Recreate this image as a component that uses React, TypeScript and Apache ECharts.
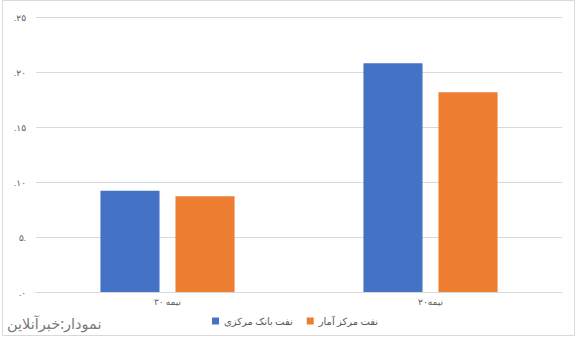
import React, { useEffect, useRef } from "react";
import * as echarts from "echarts";

const categories = ["۳۰ نیمه", "۲۰نیمه"];
const seriesNames = ["نفت بانک مرکزی", "نفت مرکز آمار"];
const bankValues = [9.2, 20.8];
const statValues = [8.7, 18.15];
const yTickLabels = [".۰", "۵.", ".۱۰", ".۱۵", ".۲۰", ".۲۵"];
const sourceText = "نمودار:خبرآنلاین";

export default function App() {
  const ref = useRef<HTMLDivElement>(null);
  useEffect(() => {
    document.body.style.margin = "0";
    const chart = echarts.init(ref.current!, null, { renderer: "svg" });
    const font = "Calibri, 'Liberation Sans', 'DejaVu Sans', sans-serif";
    chart.setOption({
      animation: false,
      backgroundColor: "#ffffff",
      textStyle: { fontFamily: font },
      grid: { left: 36, right: 15, top: 17, bottom: 45, containLabel: false },
      legend: {
        left: 207,
        top: 311,
        itemWidth: 7,
        itemHeight: 7,
        itemGap: 14,
        icon: "rect",
        textStyle: { fontSize: 10, color: "#595959", fontFamily: font },
        data: seriesNames,
      },
      xAxis: {
        type: "category",
        data: categories,
        axisLine: { show: true, lineStyle: { color: "#d9d9d9", width: 1 } },
        axisTick: { show: false },
        axisLabel: { fontSize: 9, color: "#595959", margin: 5 },
      },
      yAxis: {
        type: "value",
        min: 0,
        max: 25,
        interval: 5,
        axisLine: { show: false },
        axisTick: { show: false },
        splitLine: { lineStyle: { color: "#d9d9d9", width: 1 } },
        axisLabel: {
          fontSize: 9,
          color: "#595959",
          margin: 10,
          formatter: (v: number) => yTickLabels[Math.round(v / 5)] ?? "",
        },
      },
      series: [
        {
          name: seriesNames[0],
          type: "bar",
          data: bankValues,
          itemStyle: { color: "#4472C4" },
          barGap: "27%",
          barCategoryGap: "49%",
        },
        {
          name: seriesNames[1],
          type: "bar",
          data: statValues,
          itemStyle: { color: "#ED7D31" },
        },
      ],
      graphic: [
        {
          type: "rect",
          shape: { x: 2.5, y: 0.5, width: 572, height: 335 },
          style: { fill: "none", stroke: "#d9d9d9", lineWidth: 1 },
          silent: true,
        },
        {
          type: "text",
          left: 7,
          top: 315,
          style: { text: sourceText, fontSize: 14.5, fill: "#7a7a7a", fontFamily: "'Noto Sans', 'DejaVu Sans', sans-serif" },
        },
      ],
    });
    return () => chart.dispose();
  }, []);
  return <div ref={ref} style={{ width: 577, height: 337 }} />;
}
